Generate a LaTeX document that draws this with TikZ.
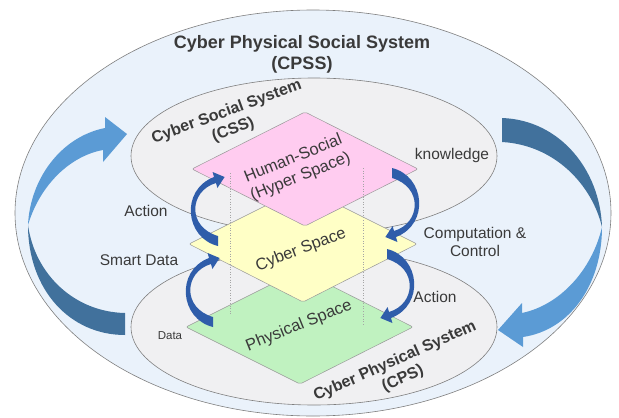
\documentclass[tikz,border=0pt]{standalone}
\usepackage{fontspec}
\setmainfont{Liberation Sans}
\usetikzlibrary{arrows.meta}
\definecolor{txt}{HTML}{3A3A3A}
\definecolor{outerfill}{HTML}{EAF2FB}
\definecolor{innerfill}{HTML}{F0F0F2}
\definecolor{edgegray}{HTML}{7F7F7F}
\definecolor{pinkfill}{HTML}{FFCCF0}
\definecolor{yellowfill}{HTML}{FFFFC6}
\definecolor{greenfill}{HTML}{C0F2C0}
\definecolor{lightarrow}{HTML}{5B9BD5}
\definecolor{darkarrow}{HTML}{41719C}
\definecolor{smallarrow}{HTML}{2F5DAA}
\tikzset{
  sysellipse/.style={draw=edgegray, line width=0.6pt, fill=innerfill},
  plane/.style={draw=edgegray!80, line width=0.5pt, rounded corners=2pt},
  guide/.style={draw=edgegray!70, dotted, line width=0.6pt},
  bigtitle/.style={font=\bfseries\fontsize{18}{21}\selectfont, text=txt, align=center, inner sep=0pt},
  systitle/.style={font=\bfseries\fontsize{16}{19}\selectfont, text=txt, align=center, inner sep=0pt},
  planetext/.style={font=\fontsize{16.5}{19.5}\selectfont, text=txt, align=center, inner sep=0pt},
  lbl/.style={font=\fontsize{15.5}{18.5}\selectfont, text=txt, align=center, inner sep=0pt},
  pics/flowarrow/.style={code={
    \fill[smallarrow] (0,5) .. controls (-33,-3) and (-38,-51) .. (-4,-64)
      -- (-5.4,-69) -- (6.6,-64) -- (-0.6,-53) -- (-2,-58)
      .. controls (-29,-50) and (-31,-14) .. (0,-5) -- cycle;
  }},
}
\begin{document}
\begin{tikzpicture}[x=1pt,y=-1pt]
\useasboundingbox (0,0) rectangle (619,418);
% outer ellipse
\path[draw=edgegray, line width=0.6pt, fill=outerfill] (313,213) ellipse [x radius=298pt, y radius=203pt];
% big arrows
\fill[lightarrow] (28,225) .. controls (30,180) and (60,137) .. (105,128) -- (105,117) -- (127,134) -- (103,162) -- (103,150) .. controls (70,156) and (40,185) .. (28,225) -- cycle;
\fill[darkarrow] (28,225) .. controls (28,290) and (70,335) .. (125,335) -- (125,313) .. controls (75,312) and (35,275) .. (28,225) -- cycle;
\fill[darkarrow] (502,118) .. controls (560,120) and (600,170) .. (602,227) .. controls (592,185) and (555,145) .. (502,142) -- cycle;
\fill[lightarrow] (602,227) .. controls (602,285) and (570,330) .. (523,337) -- (523,347) -- (498,330) -- (522,303) -- (522,313) .. controls (560,305) and (592,270) .. (602,227) -- cycle;
% system ellipses
\path[sysellipse] (314,156) ellipse [x radius=183pt, y radius=78pt];
\path[sysellipse] (314,327) ellipse [x radius=183pt, y radius=78pt];
% planes
\path[plane, fill=greenfill] (300,270) -- (413,327) -- (300,384) -- (186,327) -- cycle;
\path[plane, fill=yellowfill] (303,187) -- (417,244) -- (303,302) -- (189,244) -- cycle;
\path[plane, fill=pinkfill] (305,112) -- (418,169) -- (305,226) -- (192,169) -- cycle;
% guides
\draw[guide] (230,173) -- (230,315);
\draw[guide] (363,168) -- (363,325);
% texts
\node[bigtitle] (cpss) at (302,54) {Cyber Physical Social System\\(CPSS)};
\node[systitle, rotate=20] (css) at (230,121) {Cyber Social System\\(CSS)};
\node[systitle, rotate=24] (cps) at (399,370) {Cyber Physical System\\(CPS)};
\node[planetext, rotate=22] (hyper) at (297,168) {Human-Social\\(Hyper Space)};
\node[planetext, rotate=21] (cyber) at (301,250) {Cyber Space};
\node[planetext, rotate=22] (phys) at (299,326) {Physical Space};
\node[lbl] (know) at (452,155) {knowledge};
\node[lbl] (comp) at (475,242) {Computation \&\\Control};
\node[lbl] (act2) at (435,297) {Action};
\node[lbl] (act1) at (146,211) {Action};
\node[lbl] (smart) at (139,260) {Smart Data};
\node[font=\fontsize{11.5}{13}\selectfont, text=txt, inner sep=0pt] (data) at (170,336) {Data};
% flow arrows (tapered ribbons)
\pic at (218,241) {flowarrow};
\pic at (213,322) {flowarrow};
\pic[rotate=180] at (392,173) {flowarrow};
\pic[rotate=180] at (387,254) {flowarrow};
\end{tikzpicture}
\end{document}
